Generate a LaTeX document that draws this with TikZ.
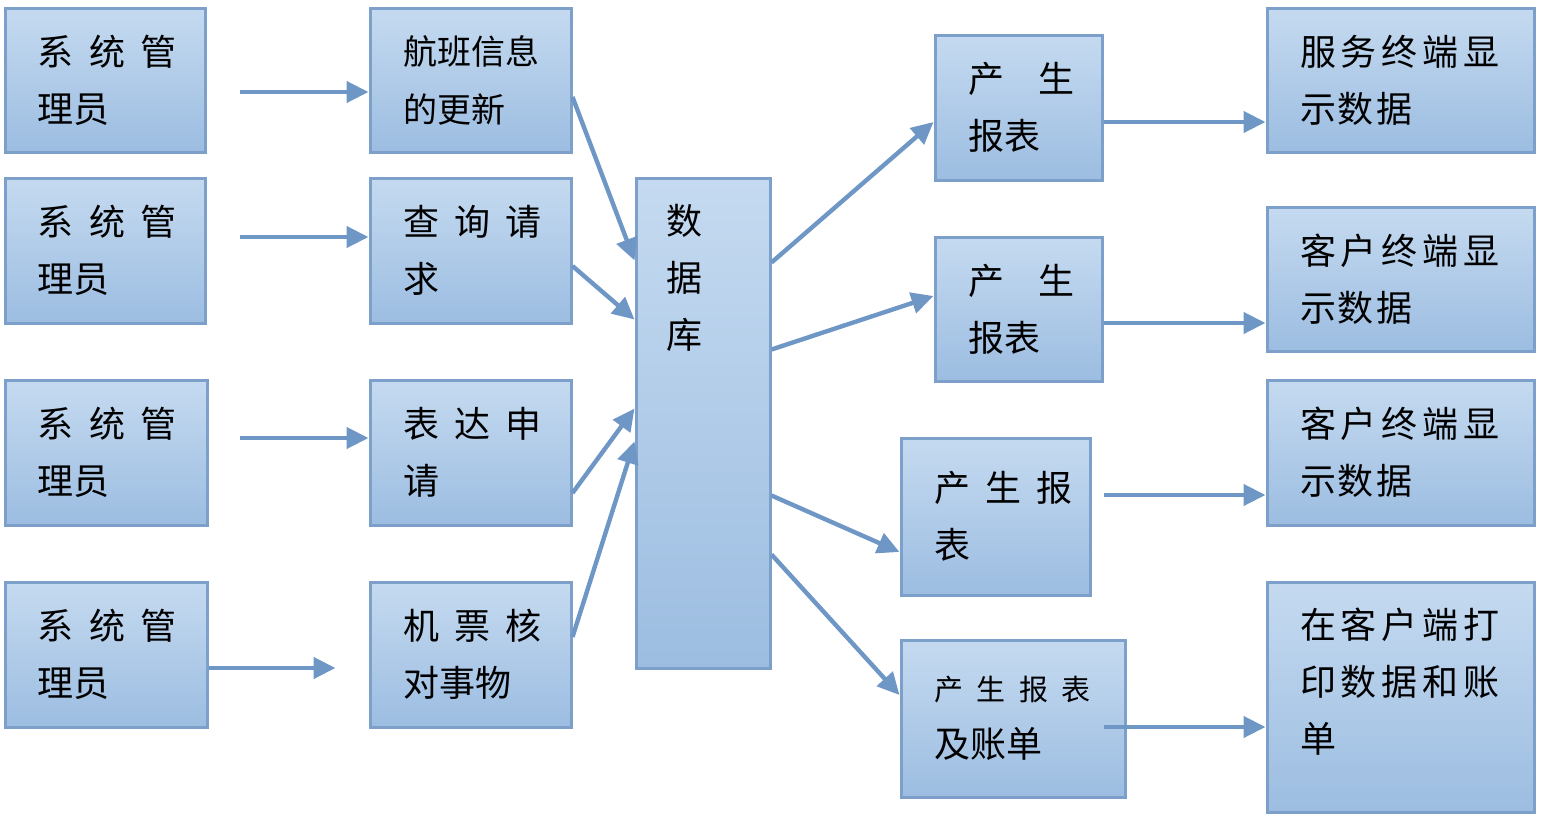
\documentclass[tikz,border=0pt]{standalone}
\usepackage{fontspec}
\setmainfont{Noto Sans CJK SC}
\usetikzlibrary{arrows.meta}

\definecolor{boxtop}{HTML}{C5DAF0}
\definecolor{boxbot}{HTML}{9CBDE1}
\definecolor{boxline}{HTML}{7DA0CA}
\definecolor{flowc}{HTML}{6F97C6}

\newcommand{\zgap}{\kern0.42em}
\newcommand{\wgap}{\kern0.95em}
\newcommand{\dgap}{\kern2.5pt}

\tikzset{
  box/.style={draw=boxline, line width=1.5pt, top color=boxtop, bottom color=boxbot,
    align=left, inner xsep=16.5pt, font=\fontsize{18pt}{28.5pt}\selectfont},
  flow/.style={draw=flowc, line width=2.2pt, -{Triangle[length=11pt,width=10.5pt]}}
}

\begin{document}
\begin{tikzpicture}[x=0.5pt, y=-0.5pt]
\useasboundingbox (0,0) rectangle (1544,820);

% administrators
\node[box, text width=67pt, minimum height=72pt] (A1) at (105,80) {系\zgap{}统\zgap{}管\\理员};
\node[box, text width=67pt, minimum height=72.5pt] (A2) at (105,250.5) {系\zgap{}统\zgap{}管\\理员};
\node[box, text width=68pt, minimum height=72.5pt] (A3) at (106,452.5) {系\zgap{}统\zgap{}管\\理员};
\node[box, text width=68pt, minimum height=72.5pt] (A4) at (106,654.5) {系\zgap{}统\zgap{}管\\理员};

% requests
\node[box, text width=67.5pt, minimum height=72pt, font=\fontsize{17pt}{29pt}\selectfont] (B1) at (470.5,80) {航班信息\\的更新};
\node[box, text width=67.5pt, minimum height=72.5pt] (B2) at (470.5,250.5) {查\zgap{}询\zgap{}请\\求};
\node[box, text width=67.5pt, minimum height=72.5pt] (B3) at (470.5,452.5) {表\zgap{}达\zgap{}申\\请};
\node[box, text width=67.5pt, minimum height=72.5pt] (B4) at (470.5,654.5) {机\zgap{}票\zgap{}核\\对事物};

% database
\node[box, minimum width=67pt, minimum height=245pt] (DB) at (703,423) {};
\node[align=left, inner sep=0pt, anchor=north west, font=\fontsize{18pt}{28.5pt}\selectfont]
  (DBt) at ([shift={(16pt,-13.5pt)}]DB.north west) {数\\据\\库};

% reports
\node[box, text width=50.5pt, minimum height=72.5pt] (C1) at (1018.5,107.5) {产\wgap{}生\\报表};
\node[box, text width=50.5pt, minimum height=72pt] (C2) at (1018.5,309) {产\wgap{}生\\报表};
\node[box, text width=61.5pt, minimum height=78.5pt] (C3) at (995.5,516.5) {产\zgap{}生\zgap{}报\\表};
\node[box, text width=79pt, minimum height=78.5pt] (C4) at (1013,718.5)
  {{\fontsize{14.5pt}{28.5pt}\selectfont 产\kern6.8pt{}生\kern6.8pt{}报\kern6.8pt{}表}\\及账单};

% displays
\node[box, text width=100.5pt, minimum height=72pt] (D1) at (1400.5,80) {服\dgap{}务\dgap{}终\dgap{}端\dgap{}显\\示\kern1pt{}数\kern1pt{}据};
\node[box, text width=100.5pt, minimum height=72pt] (D2) at (1400.5,279) {客\dgap{}户\dgap{}终\dgap{}端\dgap{}显\\示\kern1pt{}数\kern1pt{}据};
\node[box, text width=100.5pt, minimum height=72.5pt] (D3) at (1400.5,452.5) {客\dgap{}户\dgap{}终\dgap{}端\dgap{}显\\示\kern1pt{}数\kern1pt{}据};
\node[box, text width=100.5pt, minimum height=115pt, text depth=74pt] (D4) at (1400.5,697) {在\dgap{}客\dgap{}户\dgap{}端\dgap{}打\\印\dgap{}数\dgap{}据\dgap{}和\dgap{}账\\单};

% connectors
\draw[flow] ([shift={(16.5pt,-6pt)}]A1.east) -- ([yshift=-6pt]B1.west);
\draw[flow] ([shift={(16.5pt,6.75pt)}]A2.east) -- ([yshift=6.75pt]B2.west);
\draw[flow] ([shift={(15.5pt,7.25pt)}]A3.east) -- ([yshift=7.25pt]B3.west);
\draw[flow] ([yshift=-6.75pt]A4.east) -- ([shift={(-16.5pt,-6.75pt)}]B4.west);

\draw[flow] ([yshift=-8.5pt]B1.east) -- ([yshift=-42pt]DB.north west);
\draw[flow] ([yshift=-7.75pt]B2.east) -- ([yshift=-71.5pt]DB.north west);
\draw[flow] ([yshift=-20.25pt]B3.east) -- ([yshift=-116pt]DB.north west);
\draw[flow] ([yshift=8.75pt]B4.east) -- ([yshift=-132.5pt]DB.north west);

\draw[flow] ([yshift=-43pt]DB.north east) -- ([yshift=-7.25pt]C1.west);
\draw[flow] ([yshift=-86.5pt]DB.north east) -- ([yshift=6.5pt]C2.west);
\draw[flow] ([yshift=-159.5pt]DB.north east) -- ([yshift=-17.75pt]C3.west);
\draw[flow] ([yshift=-189pt]DB.north east) -- ([yshift=11.75pt]C4.west);

\draw[flow] ([yshift=-7.25pt]C1.east) -- ([yshift=-21pt]D1.west);
\draw[flow] ([yshift=-7pt]C2.east) -- ([yshift=-22pt]D2.west);
\draw[flow] ([shift={(6pt,10.75pt)}]C3.east) -- ([yshift=-21.25pt]D3.west);
\draw[flow] ([shift={(-11.5pt,-4.25pt)}]C4.east) -- ([yshift=-15pt]D4.west);
\end{tikzpicture}
\end{document}
